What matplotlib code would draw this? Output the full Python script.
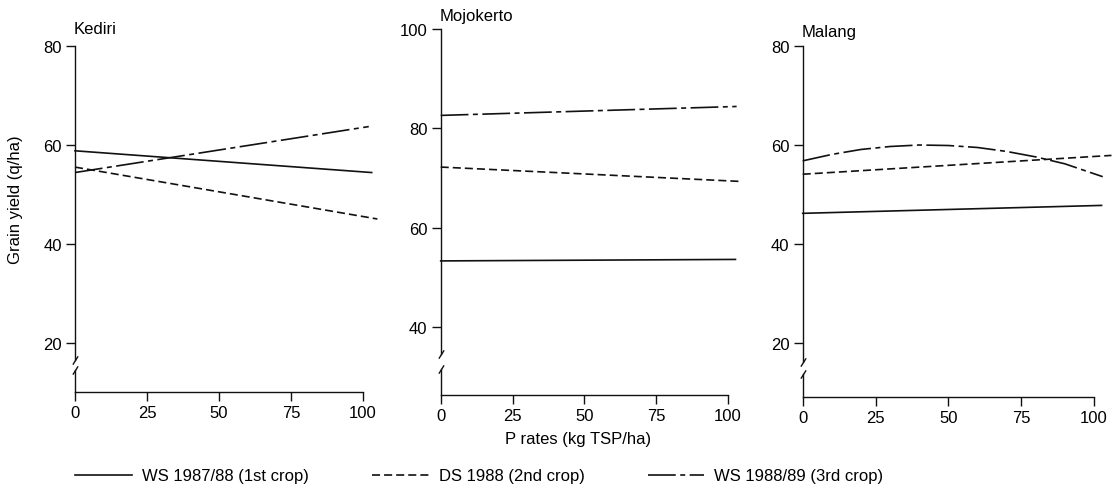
import matplotlib
matplotlib.use("Agg")
import matplotlib.pyplot as plt
from matplotlib.lines import Line2D

plt.rcParams["font.family"] = ["Liberation Sans", "DejaVu Sans"]
plt.rcParams["lines.scale_dashes"] = False

# ─── data ─────────────────────────────────────────────────────────────────────
sites = ["Kediri", "Mojokerto", "Malang"]
series_labels = ["WS 1987/88 (1st crop)", "DS 1988 (2nd crop)", "WS 1988/89 (3rd crop)"]
x_ticks = [0, 25, 50, 75, 100]
y_ticks = {
    "Kediri": [20, 40, 60, 80],
    "Mojokerto": [40, 60, 80, 100],
    "Malang": [20, 40, 60, 80],
}

kediri_x_ws8788 = [0, 103]
kediri_ws8788 = [58.8, 54.4]
kediri_x_ds88 = [0, 105]
kediri_ds88 = [55.5, 45.0]
kediri_x_ws8889 = [0, 102]
kediri_ws8889 = [54.4, 63.7]

mojokerto_x_ws8788 = [0, 102.6]
mojokerto_ws8788 = [53.3, 53.6]
mojokerto_x_ds88 = [0, 104.5]
mojokerto_ds88 = [72.2, 69.3]
mojokerto_x_ws8889 = [0, 103]
mojokerto_ws8889 = [82.6, 84.4]

malang_x_ws8788 = [0, 102.6]
malang_ws8788 = [46.2, 47.8]
malang_x_ds88 = [0, 106]
malang_ds88 = [54.1, 57.9]
malang_x_ws8889 = [0, 10, 20, 30, 40, 50, 60, 70, 80, 90, 103]
malang_ws8889 = [56.8, 58.1, 59.1, 59.7, 60.0, 59.9, 59.5, 58.7, 57.6, 56.2, 53.6]

panel_data = {
    "Kediri": [(kediri_x_ws8788, kediri_ws8788), (kediri_x_ds88, kediri_ds88),
               (kediri_x_ws8889, kediri_ws8889)],
    "Mojokerto": [(mojokerto_x_ws8788, mojokerto_ws8788), (mojokerto_x_ds88, mojokerto_ds88),
                  (mojokerto_x_ws8889, mojokerto_ws8889)],
    "Malang": [(malang_x_ws8788, malang_ws8788), (malang_x_ds88, malang_ds88),
               (malang_x_ws8889, malang_ws8889)],
}

# ─── layout / style ───────────────────────────────────────────────────────────
W, H = 1117, 489
# pixel box: left, right, top, bottom ; y-limits ; axis break (upper, lower) ; title pad
layout = {
    "Kediri": dict(box=(75, 363, 47, 393), ylim=(10, 80), brk=(16.4, 14.4), pad=10),
    "Mojokerto": dict(box=(440.7, 728, 30, 396), ylim=(26.3, 100), brk=(34.6, 31.5), pad=6),
    "Malang": dict(box=(802.7, 1094, 47, 398), ylim=(9.1, 80), brk=(16.2, 13.8), pad=7),
}
styles = [
    dict(linestyle="-"),
    dict(linestyle=(0, (5.8, 2.9))),
    dict(linestyle=(0, (20, 3.2, 3.6, 3.2))),
]
INK = "#111111"
FS = 12

fig = plt.figure(figsize=(W / 100, H / 100), dpi=100)

for site in sites:
    lay = layout[site]
    l, r, t, b = lay["box"]
    ax = fig.add_axes([l / W, 1 - b / H, (r - l) / W, (b - t) / H])
    ax.set_xlim(0, 100)
    ax.set_ylim(*lay["ylim"])

    for (xs, ys), st in zip(panel_data[site], styles):
        ax.plot(xs, ys, color=INK, lw=1.2, clip_on=False, **st)

    for side in ("top", "right"):
        ax.spines[side].set_visible(False)
    hi, lo = lay["brk"]
    ax.spines["left"].set_bounds(hi, lay["ylim"][1])
    ax.spines["bottom"].set_bounds(0, 100)
    for side in ("left", "bottom"):
        ax.spines[side].set_linewidth(1.0)
        ax.spines[side].set_color(INK)

    # lower piece of the broken y axis plus the two break slashes
    tr = ax.get_yaxis_transform()
    ax.plot([0, 0], [lay["ylim"][0], lo], transform=tr, color=INK, lw=1.0, clip_on=False)
    ax.plot([0, 0], [hi, lo], transform=tr, linestyle="none", color=INK,
            marker=[(-1, -1.6), (1, 1.6)], markersize=6, mew=1.0, clip_on=False)

    ax.set_xticks(x_ticks)
    ax.set_yticks(y_ticks[site])
    ax.tick_params(direction="out", length=6.5, width=1.0, color=INK,
                   labelsize=FS, pad=3)
    ax.patch.set_visible(False)

    ax.annotate(site, xy=(0, 1), xycoords="axes fraction", xytext=(-1, lay["pad"] * 0.72),
                textcoords="offset points", ha="left", va="bottom", fontsize=FS)

fig.text(16 / W, 1 - 200 / H, "Grain yield (q/ha)", rotation=90, ha="center",
         va="center", fontsize=FS)
fig.text(578 / W, 1 - 440 / H, "P rates (kg TSP/ha)", ha="center", va="center",
         fontsize=FS)

handles = [Line2D([], [], color=INK, lw=1.2, **st) for st in styles]
fig.legend(handles, series_labels, loc="center left", bbox_to_anchor=(75 / W, 1 - 477 / H),
           ncol=3, frameon=False, fontsize=FS, handlelength=3.4, handletextpad=0.6,
           columnspacing=3.8, borderpad=0, borderaxespad=0)

fig.savefig("out.png", dpi=100)
